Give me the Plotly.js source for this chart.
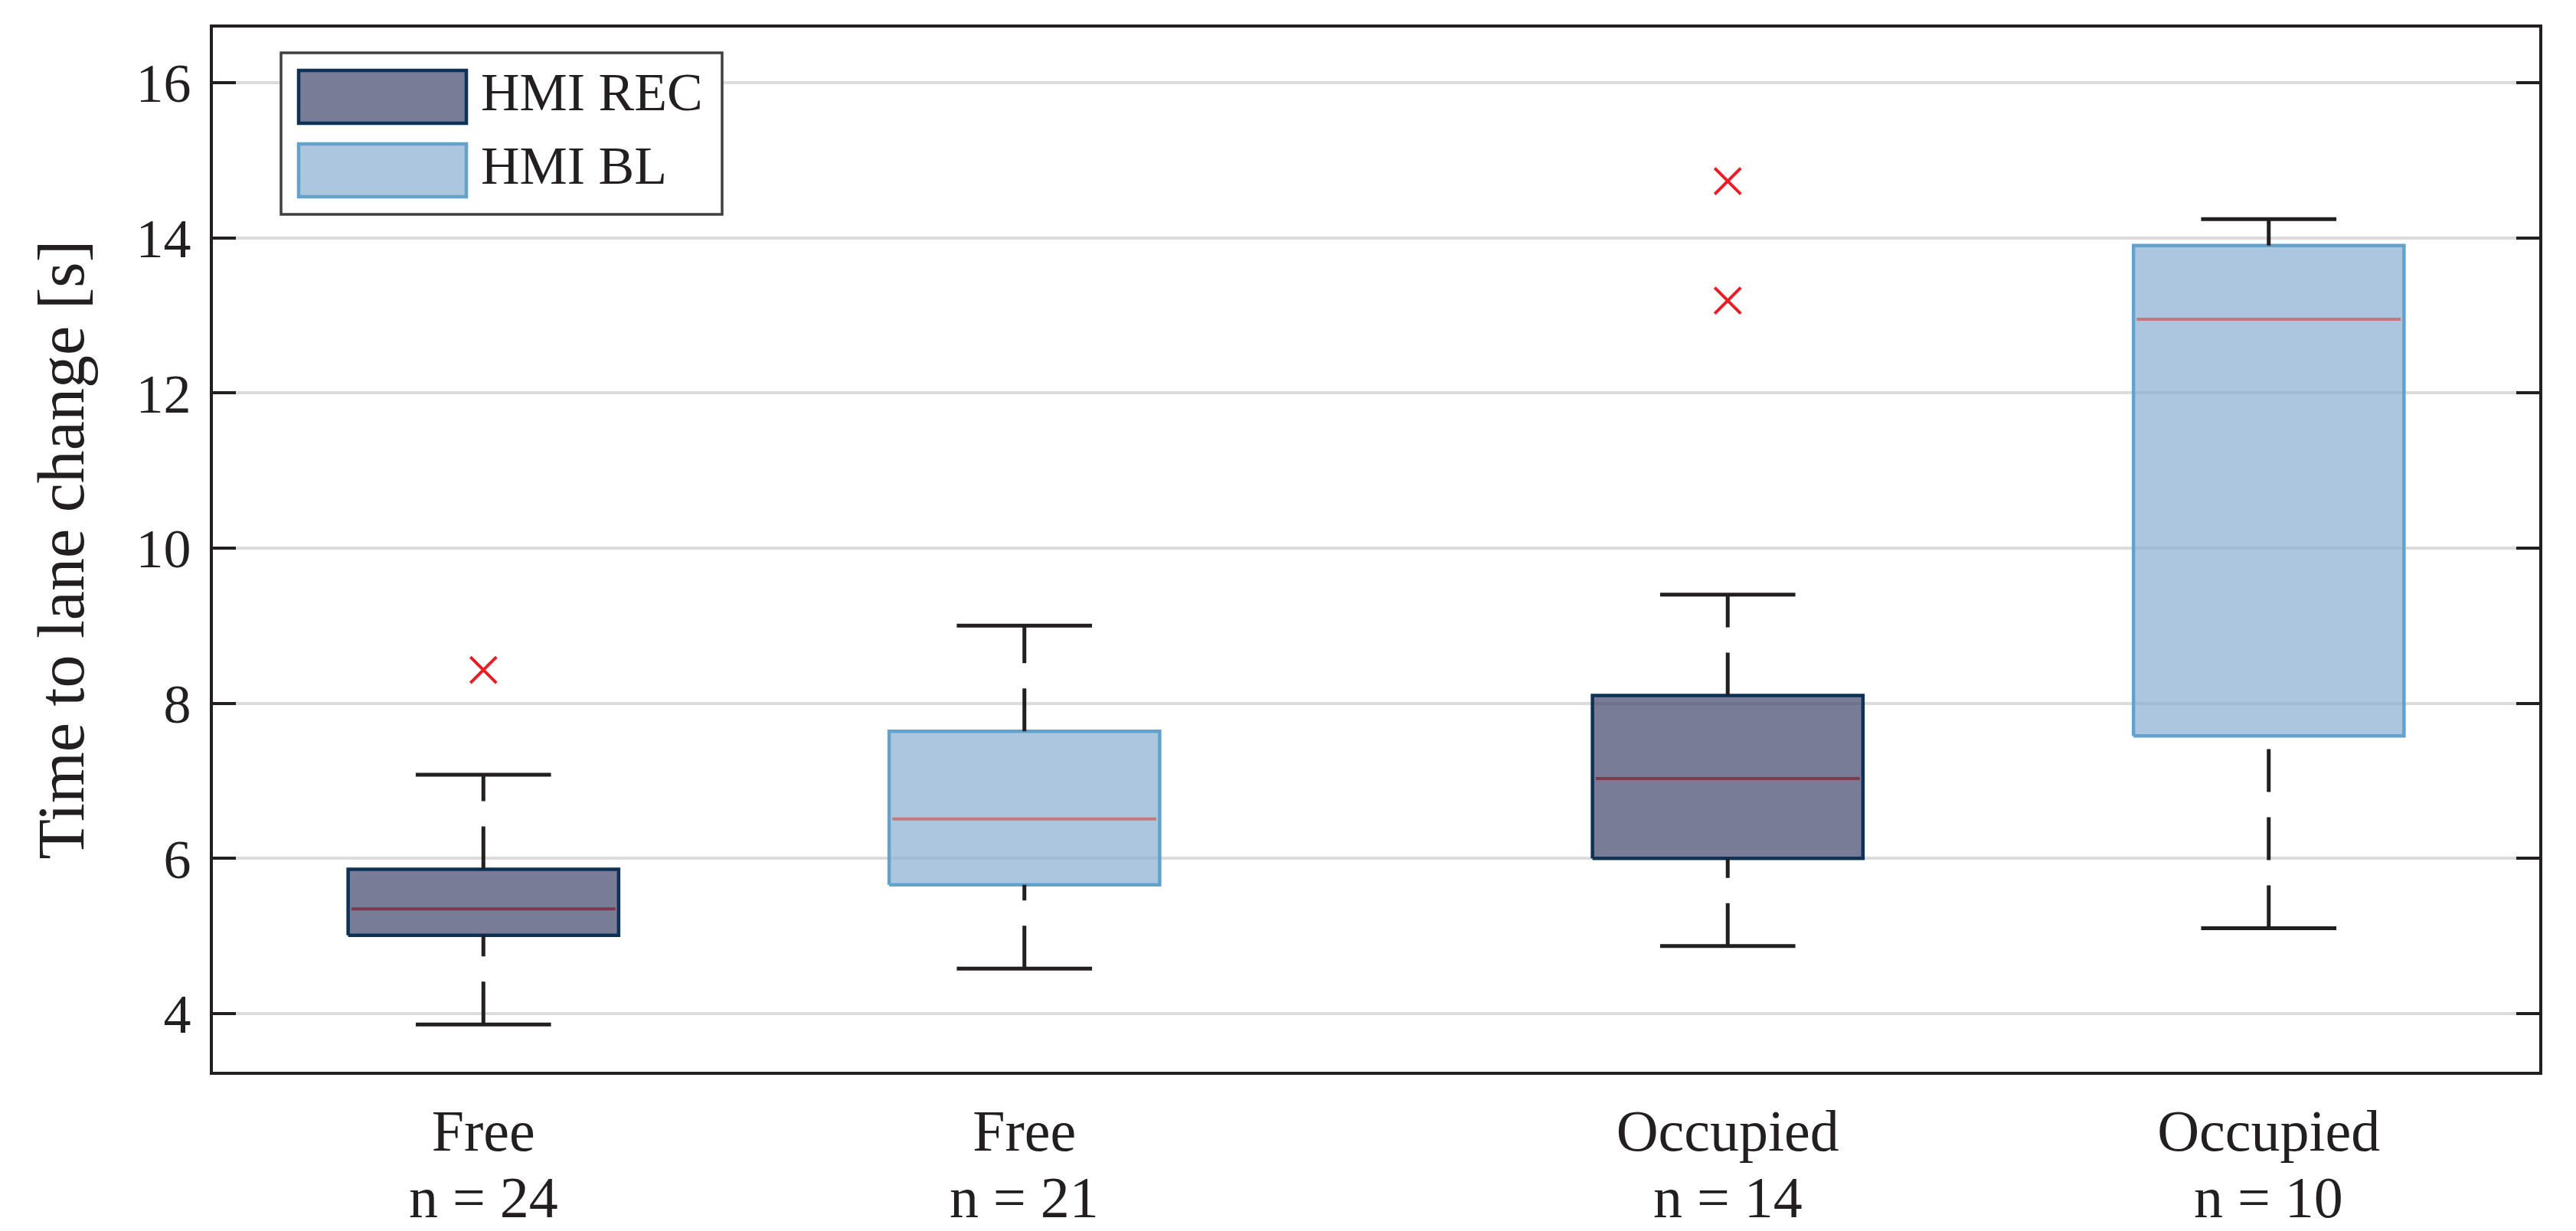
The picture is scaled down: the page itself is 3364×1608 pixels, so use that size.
<!DOCTYPE html>
<html>
<head>
<meta charset="utf-8">
<script src="https://cdn.plot.ly/plotly-3.0.1.min.js"></script>
<style>
  html, body { margin: 0; padding: 0; background: #ffffff; }
  #chart { width: 3364px; height: 1608px; }
</style>
</head>
<body>
<div id="chart"></div>
<script>
// ---------------- data ----------------
const positions   = [1, 2, 3.3, 4.3];
const conditions  = ['Free', 'Free', 'Occupied', 'Occupied'];
const sampleSizes = [24, 21, 14, 10];
const hmiGroup    = ['HMI REC', 'HMI BL', 'HMI REC', 'HMI BL'];
const lowerWhisker = [3.86, 4.58, 4.87, 5.10];
const q1           = [5.01, 5.66, 6.00, 7.58];
const median       = [5.35, 6.51, 7.03, 12.95];
const q3           = [5.86, 7.64, 8.10, 13.90];
const upperWhisker = [7.08, 9.00, 9.40, 14.24];
const outlierBoxIndex = [0, 2, 2];
const outlierValues   = [8.43, 14.73, 13.19];
const yTickValues = [4, 6, 8, 10, 12, 14, 16];
const legendNames = ['HMI REC', 'HMI BL'];

// ---------------- styles ----------------
const FONT = 'Liberation Serif, Times New Roman, serif';
const INK = '#231f20';
const style = {
  'HMI REC': { fill: 'rgba(62,68,105,0.7)', edge: '#0e3156', med: '#7d3a4d' },
  'HMI BL':  { fill: 'rgba(138,174,211,0.7)', edge: '#62a2cb', med: '#c27b78' }
};
const boxHalf = 0.25, capHalf = 0.125;

const traces = [];
positions.forEach((p, i) => {
  const s = style[hmiGroup[i]];
  traces.push({
    type: 'scatter', mode: 'lines', showlegend: false, hoverinfo: 'skip',
    x: [p - boxHalf, p + boxHalf, p + boxHalf, p - boxHalf, p - boxHalf],
    y: [q1[i], q1[i], q3[i], q3[i], q1[i]],
    fill: 'toself', fillcolor: s.fill,
    line: { color: s.edge, width: 4.5 }
  });
  traces.push({
    type: 'scatter', mode: 'lines', showlegend: false, hoverinfo: 'skip',
    x: [p - boxHalf + 0.006, p + boxHalf - 0.006], y: [median[i], median[i]],
    line: { color: s.med, width: 4 }
  });
  traces.push({
    type: 'scatter', mode: 'lines', showlegend: false, hoverinfo: 'skip',
    x: [p, p], y: [lowerWhisker[i], q1[i]],
    line: { color: INK, width: 5, dash: '56px,33px' }
  });
  traces.push({
    type: 'scatter', mode: 'lines', showlegend: false, hoverinfo: 'skip',
    x: [p, p], y: [q3[i], upperWhisker[i]],
    line: { color: INK, width: 5, dash: '56px,33px' }
  });
  traces.push({
    type: 'scatter', mode: 'lines', showlegend: false, hoverinfo: 'skip',
    x: [p - capHalf, p + capHalf], y: [lowerWhisker[i], lowerWhisker[i]],
    line: { color: INK, width: 5 }
  });
  traces.push({
    type: 'scatter', mode: 'lines', showlegend: false, hoverinfo: 'skip',
    x: [p - capHalf, p + capHalf], y: [upperWhisker[i], upperWhisker[i]],
    line: { color: INK, width: 5 }
  });
});
traces.push({
  type: 'scatter', mode: 'markers', showlegend: false, hoverinfo: 'skip',
  x: outlierBoxIndex.map(k => positions[k]), y: outlierValues,
  marker: { symbol: 'x-thin-open', size: 34, color: '#ed1c24', line: { color: '#ed1c24', width: 4 } }
});

// ---------------- layout ----------------
const L = 278, R = 3316, T = 36, B = 1400;
const px = v => (v - L) / (R - L);
const py = v => (B - v) / (B - T);

const shapes = [
  { type: 'rect', xref: 'paper', yref: 'paper', x0: px(367), x1: px(943), y0: py(280), y1: py(69),
    fillcolor: '#ffffff', line: { color: '#404040', width: 3.5 }, layer: 'above' }
];
const annotations = [];
const patchRows = [[90, 163], [186, 259]];
legendNames.forEach((name, k) => {
  const s = style[name];
  const [a, b] = patchRows[k];
  shapes.push({ type: 'rect', xref: 'paper', yref: 'paper', x0: px(388), x1: px(611), y0: py(b), y1: py(a),
    fillcolor: '#ffffff', line: { width: 0 }, layer: 'above' });
  shapes.push({ type: 'rect', xref: 'paper', yref: 'paper', x0: px(390), x1: px(609), y0: py(b - 2), y1: py(a + 2),
    fillcolor: s.fill, line: { color: s.edge, width: 4.5 }, layer: 'above' });
  annotations.push({ xref: 'paper', yref: 'paper', x: px(626), y: py((a + b) / 2 - 6),
    xanchor: 'left', yanchor: 'middle', showarrow: false, text: name,
    font: { family: FONT, size: 70, color: INK } });
});
// second line of the category labels (sample sizes)
positions.forEach((p, i) => {
  annotations.push({ xref: 'x', yref: 'paper', x: p, y: py(1564),
    xanchor: 'center', yanchor: 'middle', showarrow: false, text: 'n = ' + sampleSizes[i],
    font: { family: FONT, size: 76, color: INK } });
});

const layout = {
  width: 3364, height: 1608,
  margin: { l: L, r: 3364 - R, t: T, b: 1608 - B },
  paper_bgcolor: '#ffffff', plot_bgcolor: '#ffffff',
  showlegend: false, hovermode: false,
  font: { family: FONT, color: INK },
  xaxis: {
    range: [0.5, 4.8], tickmode: 'array', tickvals: positions,
    ticktext: conditions,
    ticks: '', showgrid: false, zeroline: false,
    showline: true, mirror: true, linecolor: INK, linewidth: 4,
    tickfont: { family: FONT, size: 76, color: INK }, ticklabelstandoff: 8
  },
  yaxis: {
    range: [3.25, 16.71], tickmode: 'array', tickvals: yTickValues,
    ticks: 'inside', ticklen: 30, tickwidth: 4, tickcolor: INK,
    showline: true, mirror: 'ticks', linecolor: INK, linewidth: 4,
    showgrid: true, gridcolor: '#dcdcdc', gridwidth: 4, zeroline: false,
    tickfont: { family: FONT, size: 72, color: INK }, ticklabelstandoff: 10,
    title: { text: 'Time to lane change [s]', font: { family: FONT, size: 86, color: INK }, standoff: 40 }
  },
  shapes: shapes, annotations: annotations
};

Plotly.newPlot('chart', traces, layout, { staticPlot: true, displayModeBar: false });
</script>
</body>
</html>
